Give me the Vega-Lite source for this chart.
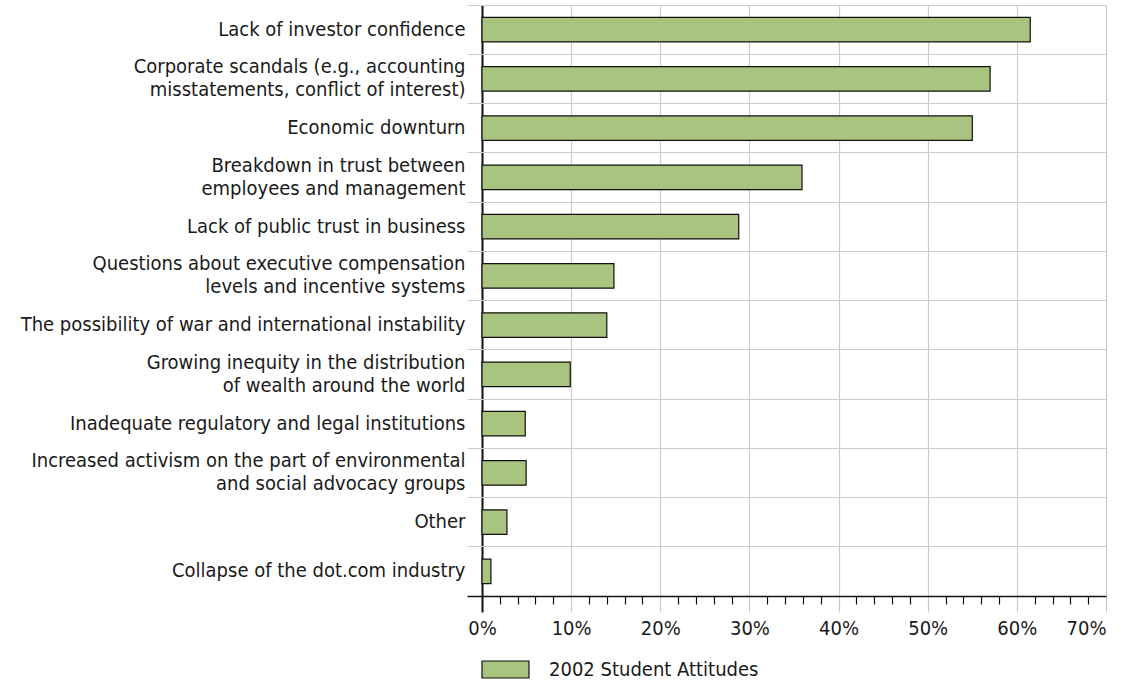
{
  "$schema": "https://vega.github.io/schema/vega-lite/v6.json",
  "autosize": "none",
  "padding": {"left": 467, "top": 5, "right": 33, "bottom": 84},
  "width": 639,
  "height": 591,
  "background": "white",
  "config": {
    "view": {"stroke": null},
    "font": "DejaVu Sans Condensed"
  },
  "data": {
    "values": [
      {"cause": "Lack of investor confidence", "pct": 61.5},
      {"cause": "Corporate scandals (e.g., accounting|misstatements, conflict of interest)", "pct": 57.0},
      {"cause": "Economic downturn", "pct": 55.0},
      {"cause": "Breakdown in trust between|employees and management", "pct": 35.9},
      {"cause": "Lack of public trust in business", "pct": 28.8},
      {"cause": "Questions about executive compensation|levels and incentive systems", "pct": 14.8},
      {"cause": "The possibility of war and international instability", "pct": 14.0},
      {"cause": "Growing inequity in the distribution|of wealth around the world", "pct": 9.9},
      {"cause": "Inadequate regulatory and legal institutions", "pct": 4.85},
      {"cause": "Increased activism on the part of environmental|and social advocacy groups", "pct": 4.95},
      {"cause": "Other", "pct": 2.8},
      {"cause": "Collapse of the dot.com industry", "pct": 1.0}
    ]
  },
  "mark": {"type": "bar", "stroke": "#111111", "strokeWidth": 1.2, "height": {"band": 0.5}},
  "encoding": {
    "y": {
      "field": "cause",
      "type": "nominal",
      "sort": null,
      "scale": {"paddingInner": 0, "paddingOuter": 0},
      "axis": {
        "title": null,
        "domain": false,
        "ticks": false,
        "bandPosition": 0,
        "grid": true,
        "gridColor": "#cccccc",
        "gridWidth": 1.2,
        "labelPadding": 2,
        "labelFontSize": 20,
        "labelColor": "#1a1a1a",
        "labelLineHeight": 23,
        "labelLimit": 0,
        "labelOffset": {"condition": {"test": "indexof(datum.label, '|') >= 0", "value": -11.5}, "value": 0},
        "labelExpr": "split(datum.label, '|')"
      }
    },
    "x": {
      "field": "pct",
      "type": "quantitative",
      "scale": {"domain": [-1.683, 70], "nice": false, "zero": false},
      "axis": {
        "title": null,
        "values": [0, 2, 4, 6, 8, 10, 12, 14, 16, 18, 20, 22, 24, 26, 28, 30, 32, 34, 36, 38, 40, 42, 44, 46, 48, 50, 52, 54, 56, 58, 60, 62, 64, 66, 68, 70],
        "labelExpr": "datum.value % 10 === 0 ? datum.value + '%' : ''",
        "labelFontSize": 20,
        "labelColor": "#1a1a1a",
        "labelPadding": 6,
        "labelOverlap": false,
        "domainColor": "#111111",
        "domainWidth": 1.5,
        "tickSize": {"condition": {"test": "datum.value % 10 === 0", "value": 16}, "value": 8},
        "tickColor": {"condition": [{"test": "datum.value === 0", "value": "#111111"}, {"test": "datum.value % 10 === 0", "value": "#c8c8c8"}], "value": "#111111"},
        "tickWidth": {"condition": {"test": "datum.value === 0", "value": 2}, "value": 1.2},
        "grid": true,
        "gridColor": {"condition": [{"test": "datum.value === 0", "value": "#111111"}, {"test": "datum.value % 10 === 0", "value": "#cccccc"}], "value": "rgba(0,0,0,0)"},
        "gridWidth": {"condition": {"test": "datum.value === 0", "value": 2}, "value": 1.2}
      }
    },
    "color": {
      "datum": "2002 Student Attitudes",
      "scale": {"range": ["#a8c47f"]},
      "legend": {
        "title": null,
        "orient": "none",
        "legendX": 14,
        "legendY": 640,
        "symbolType": "M-1,-0.362H1V0.362H-1Z",
        "symbolSize": 2209,
        "symbolStrokeColor": "#111111",
        "symbolStrokeWidth": 1.2,
        "symbolOpacity": 1,
        "labelFontSize": 20,
        "labelColor": "#1a1a1a",
        "labelLimit": 0,
        "labelOffset": 19
      }
    }
  }
}
